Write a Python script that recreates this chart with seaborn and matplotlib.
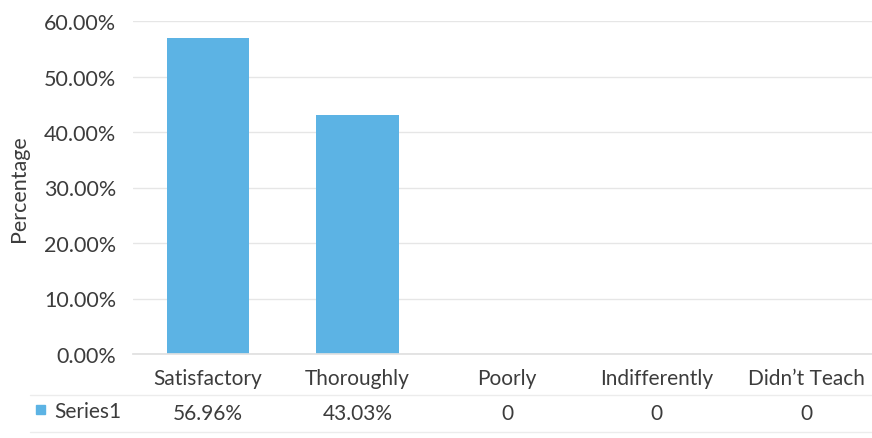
import matplotlib
matplotlib.use("Agg")
import matplotlib.pyplot as plt
import matplotlib.transforms as mtransforms
import seaborn as sns
import pandas as pd

categories = ["Satisfactory", "Thoroughly", "Poorly", "Indifferently", "Didn\u2019t Teach"]
values = [56.96, 43.03, 0, 0, 0]
value_labels = ["56.96%", "43.03%", "0", "0", "0"]
y_ticks = [0, 10, 20, 30, 40, 50, 60]
y_tick_labels = ["0.00%", "10.00%", "20.00%", "30.00%", "40.00%", "50.00%", "60.00%"]
series_name = "Series1"

sns.set_theme(style="white")
plt.rcParams["font.family"] = ["Lato", "DejaVu Sans"]

bar_color = "#5CB3E4"
text_color = "#3C3C3C"
fs = 15.5

fig = plt.figure(figsize=(8.72, 4.39), dpi=100)
fig.patch.set_facecolor("white")
W, H = 872, 439
left, right = 133, 881
top, bottom = 22, 355
ax = fig.add_axes([left / W, 1 - bottom / H, (right - left) / W, (bottom - top) / H])

df = pd.DataFrame({"cat": categories, "val": values})
sns.barplot(data=df, x="cat", y="val", color=bar_color, width=0.55, ax=ax,
            saturation=1, edgecolor="none")

ax.set_ylim(0, 60)
ax.set_xlim(-0.5, len(categories) - 0.5)
ax.set_yticks(y_ticks)
ax.set_yticklabels(y_tick_labels, fontsize=fs, color=text_color)
ax.tick_params(axis="y", length=0, pad=12)
ax.set_xticks([])
ax.set_xlabel("")
ax.set_ylabel("Percentage", fontsize=15.5, color=text_color)
ax.yaxis.set_label_coords(-0.139, 0.5)
ax.grid(axis="y", color="#E6E6E6", linewidth=1)
ax.set_axisbelow(True)
for s in ["top", "right", "left"]:
    ax.spines[s].set_visible(False)
ax.spines["bottom"].set_color("#E0E0E0")

# data table below the axis
trans = mtransforms.blended_transform_factory(ax.transData, fig.transFigure)
for i, (c, v) in enumerate(zip(categories, value_labels)):
    ax.text(i, 1 - 379 / H, c, transform=trans, ha="center", va="center",
            fontsize=15, color=text_color, clip_on=False)
    ax.text(i, 1 - 414 / H, v, transform=trans, ha="center", va="center",
            fontsize=15, color=text_color, clip_on=False)

fig.text(54 / W, 1 - 412 / H, series_name, ha="left", va="center",
         fontsize=15, color=text_color)
fig.patches.append(plt.Rectangle((36 / W, 1 - 415 / H), 9 / W, 9 / H,
                                 transform=fig.transFigure, color=bar_color))
for yy in [396, 433]:
    fig.add_artist(plt.Line2D([30 / W, 1], [1 - yy / H, 1 - yy / H],
                              transform=fig.transFigure, color="#ECECEC", lw=1))

fig.savefig("out.png", dpi=100, facecolor="white")
